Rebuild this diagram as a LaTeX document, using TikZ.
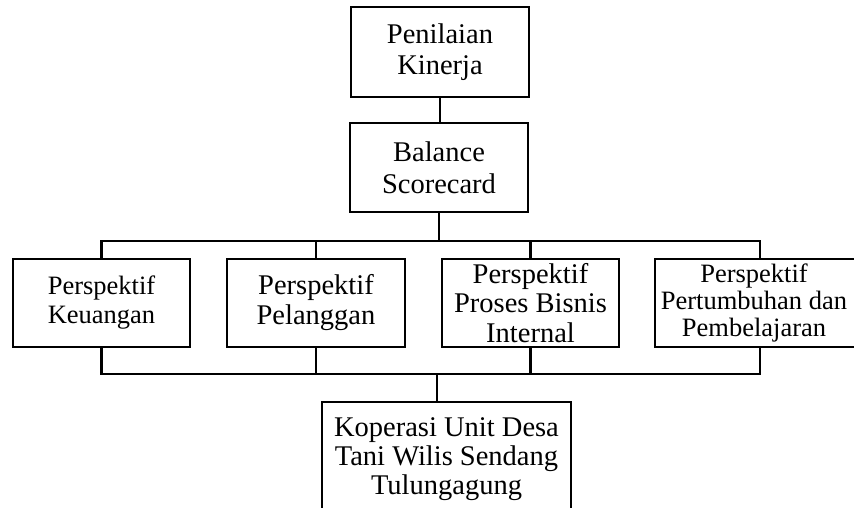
\documentclass[tikz,border=0pt]{standalone}
\usepackage{fontspec}
\setmainfont{Liberation Serif}
\begin{document}
\begin{tikzpicture}[x=1pt,y=-1pt,line width=2.6pt,
  box/.style={draw, rectangle, inner sep=0pt, outer sep=0pt, align=center,
    font=\fontsize{28.5}{30}\selectfont}]
\useasboundingbox (0,0) rectangle (854,508);
\clip (0,0) rectangle (854,508);
\node[box, minimum width=178pt, minimum height=90pt, font=\fontsize{28.5}{31.7}\selectfont] (pk) at (440,52) {Penilaian\\Kinerja};
\node[box, minimum width=178pt, minimum height=89pt, font=\fontsize{28.5}{31.7}\selectfont] (bsc) at (439,167.5) {Balance\\Scorecard};
\node[box, minimum width=177pt, minimum height=88pt, font=\fontsize{26.5}{29}\selectfont] (k1) at (101.5,303) {Perspektif\\Keuangan};
\node[box, minimum width=178pt, minimum height=88pt] (k2) at (316,303) {Perspektif\\Pelanggan};
\node[box, minimum width=177pt, minimum height=88pt, font=\fontsize{28.5}{29.5}\selectfont] (k3) at (530.5,303) {Perspektif\\Proses Bisnis\\Internal};
\node[box, minimum width=210pt, minimum height=88pt] (k4) at (760,303) {};
\node[inner sep=0pt, align=center, font=\fontsize{26.5}{27}\selectfont] (k4t) at (754,303) {Perspektif\\Pertumbuhan dan\\Pembelajaran};
\node[box, minimum width=249pt, minimum height=114pt, font=\fontsize{28.5}{29}\selectfont] (kud) at (446.5,459) {Koperasi Unit Desa\\Tani Wilis Sendang\\Tulungagung};
\coordinate (bus1) at (440,241);
\coordinate (bus2) at (437,374);
\draw (pk.south) -- (pk.south |- bsc.north);
\draw (bsc.south) -- (bsc.south |- bus1);
\foreach \n in {k1,k2,k3,k4} {
  \draw (\n.north) |- (bus1);
  \draw (\n.south) |- (bus2);
}
\draw (bus2) -- (bus2 |- kud.north);
\end{tikzpicture}
\end{document}
